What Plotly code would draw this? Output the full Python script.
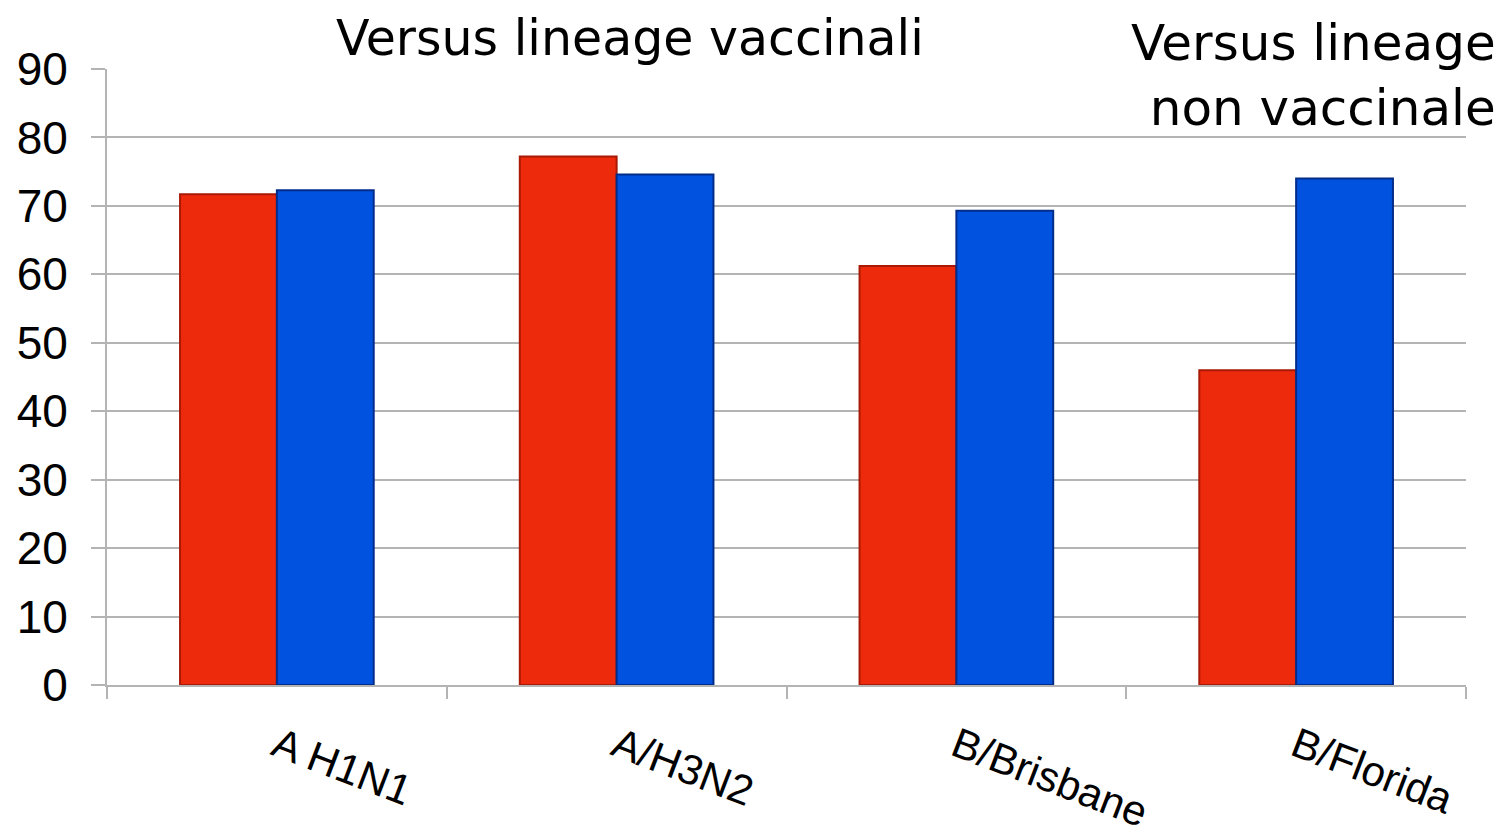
import plotly.graph_objects as go

# values
strains = ["A H1N1", "A/H3N2", "B/Brisbane", "B/Florida"]
series_red = [71.7, 77.2, 61.2, 46.0]
series_blue = [72.3, 74.6, 69.3, 74.0]
y_ticks = [0, 10, 20, 30, 40, 50, 60, 70, 80, 90]

fig = go.Figure()

fig.add_trace(go.Bar(
    x=strains,
    y=series_red,
    name="red",
    marker=dict(color="#EE2A0C", line=dict(color="#A81A06", width=2)),
))
fig.add_trace(go.Bar(
    x=strains,
    y=series_blue,
    name="blue",
    marker=dict(color="#0152DE", line=dict(color="#022C8A", width=2)),
))

# page body adds an 8px offset, so the figure is a bit smaller than the window
fig.update_layout(
    width=1498,
    height=831,
    barmode="group",
    bargap=0.43,
    bargroupgap=0.0,
    showlegend=False,
    plot_bgcolor="white",
    paper_bgcolor="white",
    margin=dict(l=99, r=40, t=61, b=154, autoexpand=False),
    font=dict(family="Arial, Liberation Sans, sans-serif", color="black"),
)

fig.update_yaxes(
    range=[0, 90],
    tickvals=y_ticks,
    showgrid=True,
    gridcolor="#B4B4B4",
    gridwidth=2,
    showline=True,
    linecolor="#B4B4B4",
    linewidth=2,
    ticks="outside",
    ticklen=14,
    tickcolor="#B4B4B4",
    tickwidth=2,
    ticklabelstandoff=14,
    tickfont=dict(size=46, family="Arial, Liberation Sans, sans-serif"),
    zeroline=False,
)

fig.update_xaxes(
    showline=True,
    linecolor="#B4B4B4",
    linewidth=2,
    ticks="outside",
    tickson="boundaries",
    ticklen=12,
    tickcolor="#B4B4B4",
    tickwidth=2,
    tickangle=21,
    ticklabelstandoff=18,
    tickfont=dict(size=42, family="Arial, Liberation Sans, sans-serif"),
)

fig.add_annotation(
    text="Versus lineage vaccinali",
    xref="paper", yref="paper",
    x=0.385, y=1.0,
    xanchor="center", yanchor="bottom",
    yshift=0,
    showarrow=False,
    font=dict(size=49, family="DejaVu Sans, sans-serif", color="black"),
)
fig.add_annotation(
    text="Versus lineage<br>non vaccinale",
    xref="paper", yref="paper",
    x=1.0, y=1.093,
    xanchor="right", yanchor="top",
    xshift=32,
    align="right",
    showarrow=False,
    font=dict(size=50, family="DejaVu Sans, sans-serif", color="black"),
)

fig.write_html("out.html")
